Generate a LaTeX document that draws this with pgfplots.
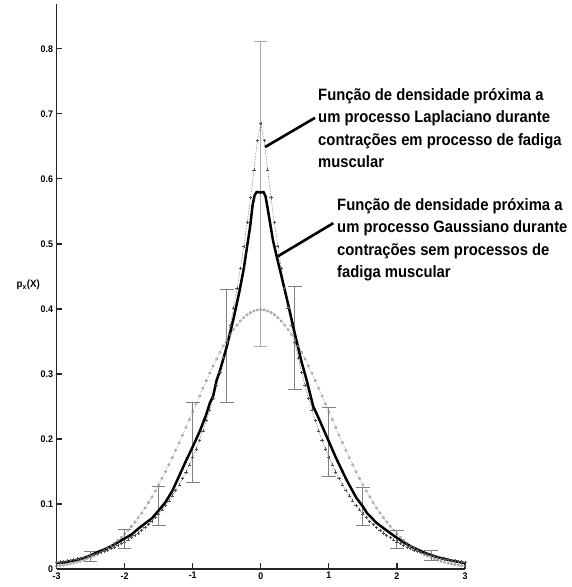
\documentclass[border=0pt]{standalone}
\usepackage{pgfplots}
\pgfplotsset{compat=1.18}
\usepackage{fontspec}
\setmainfont{Liberation Sans}
\newfontfamily\annfont[FakeStretch=0.9]{Liberation Sans Bold}
\newfontfamily\tickfont[FakeStretch=0.93]{Liberation Sans Bold}
\definecolor{bargray}{HTML}{808080}
\definecolor{barlight}{HTML}{ABABAB}
\definecolor{gausgray}{HTML}{8A8A8A}
\definecolor{lapgray}{HTML}{505050}

\begin{document}
\begin{tikzpicture}
\path[use as bounding box] (-56.6bp,-18bp) rectangle (515.4bp,569bp);
\begin{axis}[
  at={(0,0)}, anchor=south west,
  scale only axis, width=408.4bp, height=565bp,
  xmin=-3, xmax=3, ymin=0, ymax=0.869,
  clip=false,
  axis x line=bottom, axis y line=left,
  axis line style={-, line width=1.3bp, black!85},
  tick align=inside, major tick length=5.5bp,
  tick style={line width=1.2bp, black!85},
  xtick={-3,-2,-1,0,1,2,3},
  ytick={0,0.1,0.2,0.3,0.4,0.5,0.6,0.7,0.8},
  /pgf/number format/assume math mode=true,
  ticklabel style={font=\tickfont\fontsize{9.6}{10}\selectfont},
  yticklabel style={inner sep=3.3bp},
  xticklabel style={inner sep=1bp, yshift=-2.2bp},
]

% error bars around the measured density
\addplot[draw=none, mark=none, forget plot,
  error bars/.cd, y dir=both, y explicit,
  error bar style={draw=bargray, line width=0.9bp, solid},
  error mark options={rotate=90, draw=bargray, line width=0.9bp, mark size=6.8bp}]
coordinates {
  (-2.5,0.019) +- (0,0.008)
  (-2.0,0.046) +- (0,0.015)
  (-1.5,0.097) +- (0,0.030)
  (-1.0,0.1945) +- (0,0.0615)
  (-0.5,0.343) +- (0,0.087)
  (0.5,0.3555) +- (0,0.0795)
  (1.0,0.1955) +- (0,0.0535)
  (1.5,0.0965) +- (0,0.0295)
  (2.0,0.0455) +- (0,0.0145)
  (2.5,0.0204) +- (0,0.0076)
};
\addplot[draw=none, mark=none, forget plot,
  error bars/.cd, y dir=both, y explicit,
  error bar style={draw=barlight, line width=0.9bp, solid},
  error mark options={rotate=90, draw=barlight, line width=0.9bp, mark size=6.5bp}]
coordinates {
  (0,0.577) +- (0,0.235)
};

% Gaussian density (circles)
\addplot[gausgray, densely dotted, line width=0.5bp, mark=o,
  mark size=1.2bp, mark options={solid, line width=0.45bp}]
coordinates {
(-3.00,0.00443)(-2.95,0.00514)(-2.90,0.00595)(-2.85,0.00687)(-2.80,0.00792)
(-2.75,0.00909)(-2.70,0.01042)(-2.65,0.01191)(-2.60,0.01358)(-2.55,0.01545)
(-2.50,0.01753)(-2.45,0.01984)(-2.40,0.02239)(-2.35,0.02522)(-2.30,0.02833)
(-2.25,0.03174)(-2.20,0.03547)(-2.15,0.03955)(-2.10,0.04398)(-2.05,0.04879)
(-2.00,0.05399)(-1.95,0.05959)(-1.90,0.06562)(-1.85,0.07207)(-1.80,0.07895)
(-1.75,0.08628)(-1.70,0.09405)(-1.65,0.10226)(-1.60,0.11092)(-1.55,0.12001)
(-1.50,0.12952)(-1.45,0.13943)(-1.40,0.14973)(-1.35,0.16038)(-1.30,0.17137)
(-1.25,0.18265)(-1.20,0.19419)(-1.15,0.20594)(-1.10,0.21785)(-1.05,0.22988)
(-1.00,0.24197)(-0.95,0.25406)(-0.90,0.26609)(-0.85,0.27798)(-0.80,0.28969)
(-0.75,0.30114)(-0.70,0.31225)(-0.65,0.32297)(-0.60,0.33322)(-0.55,0.34294)
(-0.50,0.35207)(-0.45,0.36053)(-0.40,0.36827)(-0.35,0.37524)(-0.30,0.38139)
(-0.25,0.38667)(-0.20,0.39104)(-0.15,0.39448)(-0.10,0.39695)(-0.05,0.39844)
(0.00,0.39894)
(0.05,0.39844)(0.10,0.39695)(0.15,0.39448)(0.20,0.39104)(0.25,0.38667)
(0.30,0.38139)(0.35,0.37524)(0.40,0.36827)(0.45,0.36053)(0.50,0.35207)
(0.55,0.34294)(0.60,0.33322)(0.65,0.32297)(0.70,0.31225)(0.75,0.30114)
(0.80,0.28969)(0.85,0.27798)(0.90,0.26609)(0.95,0.25406)(1.00,0.24197)
(1.05,0.22988)(1.10,0.21785)(1.15,0.20594)(1.20,0.19419)(1.25,0.18265)
(1.30,0.17137)(1.35,0.16038)(1.40,0.14973)(1.45,0.13943)(1.50,0.12952)
(1.55,0.12001)(1.60,0.11092)(1.65,0.10226)(1.70,0.09405)(1.75,0.08628)
(1.80,0.07895)(1.85,0.07207)(1.90,0.06562)(1.95,0.05959)(2.00,0.05399)
(2.05,0.04879)(2.10,0.04398)(2.15,0.03955)(2.20,0.03547)(2.25,0.03174)
(2.30,0.02833)(2.35,0.02522)(2.40,0.02239)(2.45,0.01984)(2.50,0.01753)
(2.55,0.01545)(2.60,0.01358)(2.65,0.01191)(2.70,0.01042)(2.75,0.00909)
(2.80,0.00792)(2.85,0.00687)(2.90,0.00595)(2.95,0.00514)(3.00,0.00443)
};

% Laplacian density (crosses)
\addplot[lapgray, densely dotted, line width=0.55bp, mark=+,
  mark size=1.6bp, mark options={solid, line width=0.5bp}]
coordinates {
(-3.00,0.01016)(-2.95,0.01091)(-2.90,0.01170)(-2.85,0.01256)(-2.80,0.01348)
(-2.75,0.01447)(-2.70,0.01553)(-2.65,0.01667)(-2.60,0.01789)(-2.55,0.01920)
(-2.50,0.02061)(-2.45,0.02212)(-2.40,0.02374)(-2.35,0.02548)(-2.30,0.02734)
(-2.25,0.02935)(-2.20,0.03150)(-2.15,0.03381)(-2.10,0.03628)(-2.05,0.03894)
(-2.00,0.04179)(-1.95,0.04486)(-1.90,0.04814)(-1.85,0.05167)(-1.80,0.05546)
(-1.75,0.05952)(-1.70,0.06388)(-1.65,0.06856)(-1.60,0.07359)(-1.55,0.07898)
(-1.50,0.08476)(-1.45,0.09097)(-1.40,0.09764)(-1.35,0.10479)(-1.30,0.11247)
(-1.25,0.12071)(-1.20,0.12956)(-1.15,0.13905)(-1.10,0.14924)(-1.05,0.16018)
(-1.00,0.17191)(-0.95,0.18450)(-0.90,0.19802)(-0.85,0.21253)(-0.80,0.22810)
(-0.75,0.24482)(-0.70,0.26276)(-0.65,0.28201)(-0.60,0.30267)(-0.55,0.32485)
(-0.50,0.34865)(-0.45,0.37420)(-0.40,0.40162)(-0.35,0.43105)(-0.30,0.46263)
(-0.25,0.49653)(-0.20,0.53291)(-0.15,0.57195)(-0.10,0.61386)(-0.05,0.65884)
(0.00,0.685)
(0.05,0.65884)(0.10,0.61386)(0.15,0.57195)(0.20,0.53291)(0.25,0.49653)
(0.30,0.46263)(0.35,0.43105)(0.40,0.40162)(0.45,0.37420)(0.50,0.34865)
(0.55,0.32485)(0.60,0.30267)(0.65,0.28201)(0.70,0.26276)(0.75,0.24482)
(0.80,0.22810)(0.85,0.21253)(0.90,0.19802)(0.95,0.18450)(1.00,0.17191)
(1.05,0.16018)(1.10,0.14924)(1.15,0.13905)(1.20,0.12956)(1.25,0.12071)
(1.30,0.11247)(1.35,0.10479)(1.40,0.09764)(1.45,0.09097)(1.50,0.08476)
(1.55,0.07898)(1.60,0.07359)(1.65,0.06856)(1.70,0.06388)(1.75,0.05952)
(1.80,0.05546)(1.85,0.05167)(1.90,0.04814)(1.95,0.04486)(2.00,0.04179)
(2.05,0.03894)(2.10,0.03628)(2.15,0.03381)(2.20,0.03150)(2.25,0.02935)
(2.30,0.02734)(2.35,0.02548)(2.40,0.02374)(2.45,0.02212)(2.50,0.02061)
(2.55,0.01920)(2.60,0.01789)(2.65,0.01667)(2.70,0.01553)(2.75,0.01447)
(2.80,0.01348)(2.85,0.01256)(2.90,0.01170)(2.95,0.01091)(3.00,0.01016)
};

% measured density (thick solid)
\addplot[black, line width=2.5bp, mark=none, line join=round]
coordinates {
(-3.00,0.009)(-2.90,0.010)(-2.80,0.012)(-2.70,0.014)(-2.60,0.017)
(-2.50,0.021)(-2.40,0.026)(-2.30,0.030)(-2.20,0.035)(-2.10,0.041)
(-2.00,0.047)(-1.90,0.053)(-1.80,0.062)(-1.70,0.070)(-1.60,0.078)
(-1.50,0.090)(-1.40,0.103)(-1.30,0.120)(-1.20,0.143)(-1.10,0.166)
(-1.00,0.188)(-0.90,0.211)(-0.80,0.238)(-0.75,0.255)(-0.70,0.266)
(-0.65,0.290)(-0.60,0.305)(-0.50,0.342)(-0.40,0.385)(-0.31,0.429)
(-0.25,0.462)(-0.20,0.497)(-0.16,0.524)(-0.12,0.560)(-0.09,0.575)
(-0.06,0.580)(0.00,0.579)(0.04,0.580)(0.07,0.573)(0.10,0.555)
(0.14,0.530)(0.18,0.505)(0.235,0.480)(0.30,0.452)(0.40,0.408)
(0.50,0.362)(0.60,0.318)(0.675,0.290)(0.77,0.250)(0.85,0.232)
(0.90,0.220)(1.00,0.196)(1.10,0.172)(1.20,0.150)(1.26,0.137)
(1.40,0.110)(1.50,0.096)(1.56,0.086)(1.70,0.071)(1.80,0.063)
(1.97,0.050)(2.10,0.041)(2.20,0.035)(2.30,0.030)(2.43,0.024)
(2.60,0.018)(2.80,0.013)(3.00,0.009)
};

% axis label
\node[font=\tickfont\fontsize{10.5}{10.5}\selectfont] at (axis cs:-3.416,0.437)
  {p\textsubscript{x}(X)};

% annotations with pointer lines
\draw[black, line width=2.6bp] (axis cs:0.797,0.694) -- (axis cs:0.063,0.649);
\draw[black, line width=2.6bp] (axis cs:1.066,0.532) -- (axis cs:0.235,0.480);

\begin{scope}[every node/.style={anchor=base west, inner sep=0pt,
    font=\annfont\fontsize{16.5}{22}\selectfont}]
\node at (axis cs:0.841,0.7205) {Função de densidade próxima a};
\node at (axis cs:0.841,0.6863) {um processo Laplaciano durante};
\node at (axis cs:0.841,0.6520) {contrações em processo de fadiga};
\node at (axis cs:0.841,0.6178) {muscular};
\node at (axis cs:1.120,0.5512) {Função de densidade próxima a};
\node at (axis cs:1.120,0.5170) {um processo Gaussiano durante};
\node at (axis cs:1.120,0.4828) {contrações sem processos de};
\node at (axis cs:1.120,0.4486) {fadiga muscular};
\end{scope}

\end{axis}
\end{tikzpicture}
\end{document}
